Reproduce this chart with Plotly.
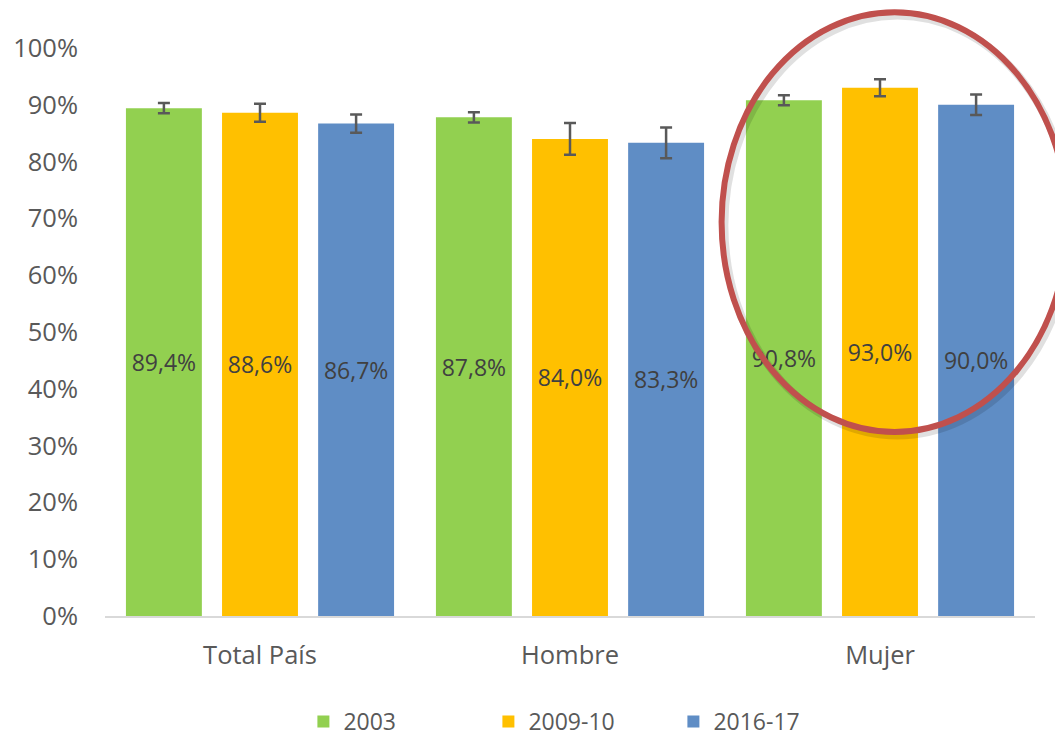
import plotly.graph_objects as go

# -----------------------------------
# Data
# -----------------------------------
categories = ["Total País", "Hombre", "Mujer"]

series_names = ["2003", "2009-10", "2016-17"]

values_2003 = [0.894, 0.878, 0.908]
values_2009 = [0.886, 0.840, 0.930]
values_2016 = [0.867, 0.833, 0.900]

err_2003 = [0.009, 0.009, 0.009]
err_2009 = [0.016, 0.028, 0.015]
err_2016 = [0.016, 0.027, 0.018]

y_ticks = [0, 0.1, 0.2, 0.3, 0.4, 0.5, 0.6, 0.7, 0.8, 0.9, 1.0]

colors = ["#92D050", "#FFC000", "#5F8DC5"]

FONT = "Open Sans"

# -----------------------------------
# Figure
# -----------------------------------
fig = go.Figure()

for name, vals, errs, color in zip(
    series_names,
    [values_2003, values_2009, values_2016],
    [err_2003, err_2009, err_2016],
    colors
):

    fig.add_trace(

        go.Bar(
            x=categories,
            y=vals,
            name=name,
            marker=dict(color=color, line=dict(width=0)),
            error_y=dict(
                type="data",
                array=errs,
                visible=True,
                color="#595959",
                thickness=2.5,
                width=6
            ),
            texttemplate="%{y:.1%}",
            textposition="inside",
            insidetextanchor="middle",
            textangle=0,
            constraintext="none",
            insidetextfont=dict(family=FONT, size=23, color="#404040"),
            hoverinfo="skip"
        )

    )

# red ellipse highlighting "Mujer" (soft shadow + outline)
fig.add_shape(
    type="circle",
    xref="paper", yref="paper",
    x0=0.666, x1=1.038, y0=0.318, y1=1.057,
    line=dict(color="rgba(0,0,0,0.12)", width=8),
    layer="above"
)
fig.add_shape(
    type="circle",
    xref="paper", yref="paper",
    x0=0.663, x1=1.035, y0=0.324, y1=1.063,
    line=dict(color="#C0504D", width=6),
    layer="above"
)

# page body has an 8px margin, so the figure is 8px smaller than the window
fig.update_layout(

    width=1055,
    height=731,
    template="plotly_white",
    paper_bgcolor="white",
    plot_bgcolor="white",
    separators=",.",
    margin=dict(l=97, r=28, t=40, b=123),
    barmode="group",
    bargap=0.07,
    bargroupgap=0.21,
    font=dict(family=FONT, size=25, color="#595959"),
    showlegend=True,
    legend=dict(
        orientation="h",
        xref="container",
        yref="container",
        x=0.28,
        xanchor="left",
        y=0.024,
        yanchor="middle",
        font=dict(family=FONT, size=23, color="#595959"),
        entrywidth=140,
        itemclick=False
    ),
    xaxis=dict(
        automargin=False,
        showline=True,
        linecolor="#D9D9D9",
        linewidth=1.5,
        showgrid=False,
        zeroline=False,
        ticks="",
        ticklabelstandoff=16,
        tickfont=dict(family=FONT, size=25.5, color="#595959")
    ),
    yaxis=dict(
        automargin=False,
        range=[0, 1],
        tickvals=y_ticks,
        tickformat=".0%",
        showgrid=False,
        zeroline=False,
        showline=False,
        ticks="",
        ticklabelstandoff=26,
        tickfont=dict(family=FONT, size=25.5, color="#595959")
    )

)

fig.write_html("out.html")
